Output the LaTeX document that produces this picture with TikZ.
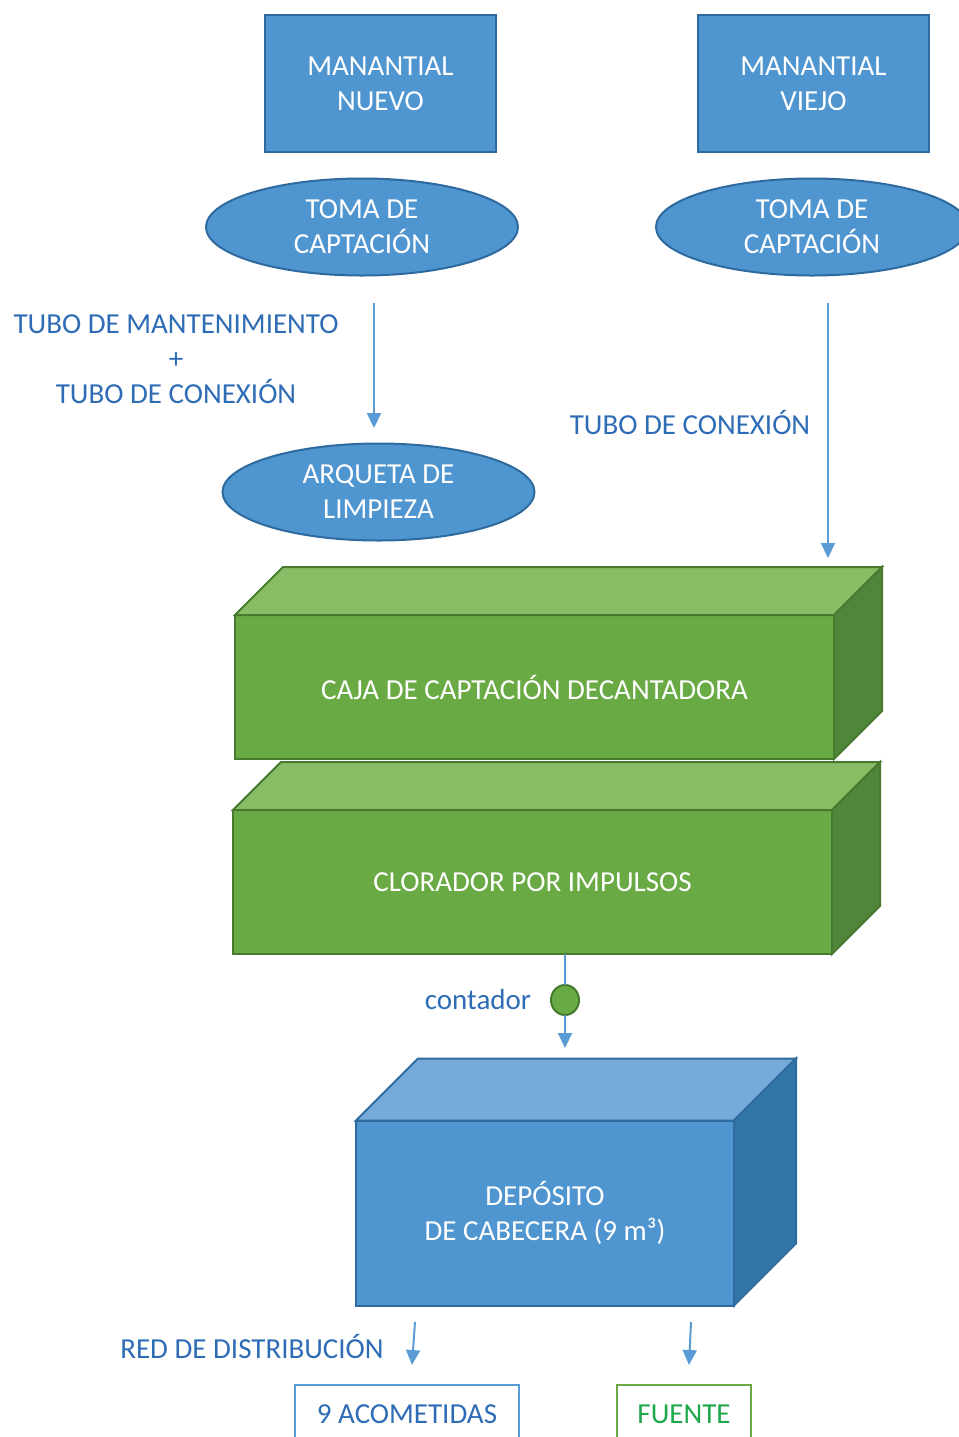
\documentclass[tikz,border=0pt]{standalone}
\usepackage{fontspec}
\setmainfont{Carlito}
\usetikzlibrary{arrows.meta,shapes.geometric}
\definecolor{azul}{HTML}{4F95D0}
\definecolor{azulborde}{HTML}{2F6A9E}
\definecolor{azulclaro}{HTML}{75AADB}
\definecolor{azuloscuro}{HTML}{3576A8}
\definecolor{azultexto}{HTML}{2E6CB5}
\definecolor{azullinea}{HTML}{5B9BD5}
\definecolor{verde}{HTML}{6AAA45}
\definecolor{verdeborde}{HTML}{477A2E}
\definecolor{verdeclaro}{HTML}{88BC65}
\definecolor{verdeoscuro}{HTML}{4F8639}
\definecolor{verdetexto}{HTML}{1DA84B}

\begin{document}
\begin{tikzpicture}[x=0.5pt,y=-0.5pt,
    every node/.style={font=\fontsize{14.5}{17.5}\selectfont, align=center, inner sep=0pt, outer sep=0pt},
    manantial/.style={draw=azulborde, line width=1pt, fill=azul, text=white, minimum width=115.5pt, minimum height=68.5pt},
    toma/.style={ellipse, draw=azulborde, line width=1pt, fill=azul, text=white, minimum width=156pt, minimum height=48.5pt},
    caja/.style={draw=verdeborde, line width=1pt, fill=verde, text=white, minimum width=299.5pt, minimum height=72pt},
    tanque/.style={draw=azulborde, line width=1pt, fill=azul, text=white, minimum width=189pt, minimum height=92.5pt},
    etiqueta/.style={text=azultexto},
    salida/.style={draw=#1, line width=0.8pt, minimum height=29pt},
    flecha/.style={draw=azullinea, line width=1pt, -{Triangle[length=7.5pt,width=7pt]}},
    linea/.style={draw=azullinea, line width=1pt}]
    \clip (0,0) rectangle (959,1437);
    \node[manantial] (nuevo) at (380.5,83.5) {MANANTIAL\\NUEVO};
    \node[manantial] (viejo) at (813.5,83.5) {MANANTIAL\\VIEJO};
    \node[toma] (toma1) at (362,227) {TOMA DE\\CAPTACIÓN};
    \node[toma] (toma2) at (812,227) {TOMA DE\\CAPTACIÓN};
    \node[toma] (arqueta) at (378.5,492) {ARQUETA DE\\LIMPIEZA};
    \node[etiqueta] (tubo1) at (176,359) {TUBO DE MANTENIMIENTO\\+\\TUBO DE CONEXIÓN};
    \node[etiqueta] (tubo2) at (690,422) {TUBO DE CONEXIÓN};
    \coordinate (t1a) at (374,303);
    \coordinate (t1b) at (374,428);
    \coordinate (t2a) at (828,303);
    \coordinate (t2b) at (828,558);
    \draw[flecha] (t1a) -- (t1b);
    \draw[flecha] (t2a) -- (t2b);

    \node[caja] (decantadora) at (534.5,687) {CAJA DE CAPTACIÓN DECANTADORA};
    \draw[draw=verdeborde, line width=1pt, fill=verdeclaro] (decantadora.north west) -- ++(48,-48) -- ++(599,0) -- (decantadora.north east) -- cycle;
    \draw[draw=verdeborde, line width=1pt, fill=verdeoscuro] (decantadora.north east) -- ++(48,-48) -- ++(0,144) -- (decantadora.south east) -- cycle;

    \node[caja] (clorador) at (532.5,882) {CLORADOR POR IMPULSOS};
    \draw[draw=verdeborde, line width=1pt, fill=verdeclaro] (clorador.north west) -- ++(48,-48) -- ++(599,0) -- (clorador.north east) -- cycle;
    \draw[draw=verdeborde, line width=1pt, fill=verdeoscuro] (clorador.north east) -- ++(48,-48) -- ++(0,144) -- (clorador.south east) -- cycle;

    \node[ellipse, draw=verdeborde, line width=1pt, fill=verde, minimum width=14pt, minimum height=15pt] (contador) at (565,1000) {};
    \node[etiqueta] (lblcontador) at (478,1000) {contador};
    \coordinate (c1) at (565,1048);
    \draw[linea] (contador |- clorador.south) -- (contador);
    \draw[flecha] (contador) -- (c1);

    \node[tanque] (deposito) at (545,1213) {DEPÓSITO\\DE CABECERA (9 m³)};
    \draw[draw=azulborde, line width=1pt, fill=azulclaro] (deposito.north west) -- ++(62,-62) -- ++(378,0) -- (deposito.north east) -- cycle;
    \draw[draw=azulborde, line width=1pt, fill=azuloscuro] (deposito.north east) -- ++(62,-62) -- ++(0,185) -- (deposito.south east) -- cycle;

    \node[etiqueta] (red) at (252,1346) {RED DE DISTRIBUCIÓN};
    \node[salida=azullinea, text=azultexto, minimum width=112pt] (acometidas) at (407,1414) {9 ACOMETIDAS};
    \node[salida=verde, text=verdetexto, minimum width=67pt] (fuente) at (684,1414) {FUENTE};
    \coordinate (r1) at (415,1322);
    \coordinate (r1b) at (412,1365);
    \coordinate (r2) at (691,1322);
    \coordinate (r2b) at (689,1365);
    \draw[flecha] (r1) -- (r1b);
    \draw[flecha] (r2) -- (r2b);
\end{tikzpicture}
\end{document}
